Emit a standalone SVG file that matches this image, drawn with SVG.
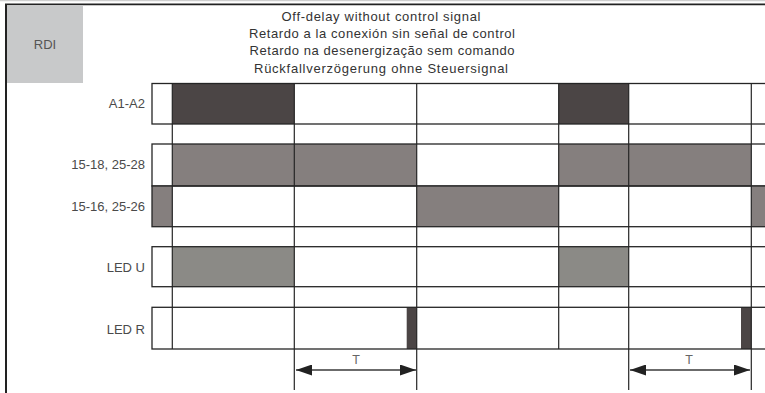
<svg xmlns="http://www.w3.org/2000/svg" width="765" height="393" viewBox="0 0 765 393">
<style>
 .lbl{font-family:"Liberation Sans",Arial,sans-serif;font-size:13px;fill:#4a4a4a;text-anchor:end}
 .title{font-family:"Liberation Sans",Arial,sans-serif;font-size:13px;fill:#333;text-anchor:middle}
 .box{stroke:#252525;stroke-width:1.3;fill:none}
 .vl{stroke:#252525;stroke-width:1.2;fill:none}
 .dk{fill:#4b4545}
 .gr{fill:#857f7e}
 .lu{fill:#8b8a86}
 .arr{stroke:#3a3a3a;stroke-width:1.5;fill:none;marker-start:url(#ah);marker-end:url(#ah)}
 .t{font-family:"Liberation Sans",Arial,sans-serif;font-size:12.5px;fill:#666;text-anchor:middle}
</style>
<defs>
 <marker id="ah" markerUnits="userSpaceOnUse" markerWidth="16" markerHeight="11" viewBox="0 0 16 11" refX="16" refY="5.5" orient="auto-start-reverse">
  <path d="M0,0 L16,5.5 L0,11 z" fill="#222"/>
 </marker>
</defs>
<rect width="765" height="393" fill="#fff"/>
<g id="frame">
 <line x1="0" y1="0.6" x2="765" y2="0.6" stroke="#cfcfcf" stroke-width="1.2"/>
 <line x1="5" y1="4.3" x2="765" y2="4.3" stroke="#222" stroke-width="1.8"/>
 <line x1="6" y1="4" x2="6" y2="393" stroke="#222" stroke-width="2"/>
</g>
<g id="rdi">
 <rect x="7" y="5.2" width="76" height="77.8" fill="#c8c9ca"/>
 <text x="45" y="48.5" font-family="'Liberation Sans',Arial,sans-serif" font-size="13" fill="#555" text-anchor="middle">RDI</text>
</g>
<g id="title">
 <text class="title" x="381" y="20.5" textLength="199" lengthAdjust="spacing">Off-delay without control signal</text>
 <text class="title" x="382" y="37.8" textLength="266" lengthAdjust="spacing">Retardo a la conexión sin señal de control</text>
 <text class="title" x="382" y="55.2" textLength="265" lengthAdjust="spacing">Retardo na desenergização sem comando</text>
 <text class="title" x="381" y="72.6" textLength="254" lengthAdjust="spacing">Rückfallverzögerung ohne Steuersignal</text>
</g>
<g id="row-a1a2">
 <rect class="dk" x="172.3" y="83.5" width="122" height="40.5"/>
 <rect class="dk" x="558.7" y="83.5" width="70" height="40.5"/>
 <rect class="box" x="152" y="83.5" width="620" height="40.5"/>
 <text class="lbl" x="145" y="107.5">A1-A2</text>
</g>
<g id="row-1518">
 <rect class="gr" x="172.3" y="144" width="244.4" height="42"/>
 <rect class="gr" x="558.7" y="144" width="192.6" height="42"/>
 <rect class="box" x="152" y="144" width="620" height="42"/>
 <text class="lbl" x="145" y="168.5">15-18, 25-28</text>
</g>
<g id="row-1516">
 <rect class="gr" x="152" y="186" width="20.3" height="40.7"/>
 <rect class="gr" x="416.7" y="186" width="142" height="40.7"/>
 <rect class="gr" x="751.3" y="186" width="14" height="40.7"/>
 <rect class="box" x="152" y="186" width="620" height="40.7"/>
 <text class="lbl" x="145" y="210.5">15-16, 25-26</text>
</g>
<g id="row-ledu">
 <rect class="lu" x="172.3" y="246.7" width="122" height="40"/>
 <rect class="lu" x="558.7" y="246.7" width="70" height="40"/>
 <rect class="box" x="152" y="246.7" width="620" height="40"/>
 <text class="lbl" x="145" y="272">LED U</text>
</g>
<g id="row-ledr">
 <rect class="dk" x="406.7" y="307.3" width="10" height="41.7"/>
 <rect class="dk" x="741" y="307.3" width="10.3" height="41.7"/>
 <rect class="box" x="152" y="307.3" width="620" height="41.7"/>
 <text class="lbl" x="145" y="334">LED R</text>
</g>
<g id="connectors">
 <line class="vl" x1="172.3" y1="83.5" x2="172.3" y2="349"/>
 <line class="vl" x1="294.3" y1="83.5" x2="294.3" y2="390"/>
 <line class="vl" x1="416.7" y1="83.5" x2="416.7" y2="390"/>
 <line class="vl" x1="558.7" y1="83.5" x2="558.7" y2="349"/>
 <line class="vl" x1="628.7" y1="83.5" x2="628.7" y2="390"/>
 <line class="vl" x1="751.3" y1="83.5" x2="751.3" y2="390"/>
 <line class="arr" x1="296" y1="370" x2="416" y2="370"/>
 <line class="arr" x1="630" y1="370" x2="750" y2="370"/>
 <text class="t" x="356" y="364">T</text>
 <text class="t" x="689" y="364">T</text>
</g>
</svg>
